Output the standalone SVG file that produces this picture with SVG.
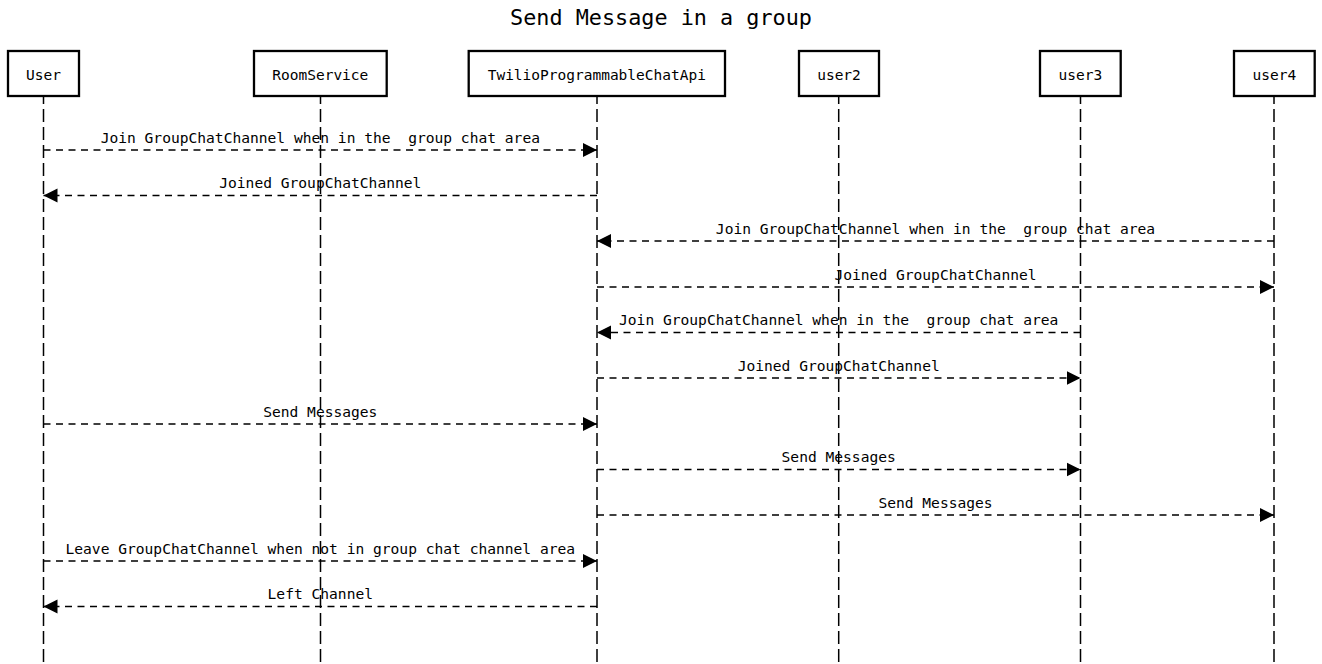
<svg xmlns="http://www.w3.org/2000/svg" width="1322" height="664" viewBox="0 0 1322 664" xml:space="preserve">
<style>
  .bg{fill:#ffffff}
  text{white-space:pre}
  .actor rect{fill:#ffffff;stroke:#000000;stroke-width:2.3}
  .actor text{font-family:"DejaVu Sans Mono","Liberation Mono",monospace;font-size:14.5px;fill:#000000;text-anchor:middle}
  .life{stroke:#000000;stroke-width:1.5;stroke-dasharray:13 5;stroke-dashoffset:6;fill:none}
  .msg{stroke:#000000;stroke-width:1.5;stroke-dasharray:7 5.5;fill:none}
  .lbl{font-family:"DejaVu Sans Mono","Liberation Mono",monospace;font-size:14.6px;fill:#000000;text-anchor:middle}
  .title{font-family:"DejaVu Sans Mono","Liberation Mono",monospace;font-size:21.8px;fill:#000000;text-anchor:middle}
</style>
<defs>
  <marker id="ah" markerUnits="userSpaceOnUse" markerWidth="15" markerHeight="16" refX="14" refY="7.5" orient="auto">
    <path d="M0,0.5 L14,7.5 L0,14.5 Z" fill="#000000"/>
  </marker>
</defs>
<rect class="bg" x="0" y="0" width="1322" height="664"/>
<text class="title" x="661" y="25">Send Message in a group</text>
<g id="lifelines">
  <line class="life" x1="43.5" y1="97" x2="43.5" y2="664"/>
  <line class="life" x1="320.5" y1="97" x2="320.5" y2="664"/>
  <line class="life" x1="597" y1="97" x2="597" y2="664"/>
  <line class="life" x1="838.7" y1="97" x2="838.7" y2="664"/>
  <line class="life" x1="1080.5" y1="97" x2="1080.5" y2="664"/>
  <line class="life" x1="1274" y1="97" x2="1274" y2="664"/>
</g>
<g id="User" class="actor"><rect x="8" y="51" width="71" height="45"/><text x="43.5" y="79.5">User</text></g>
<g id="RoomService" class="actor"><rect x="254" y="51" width="132.7" height="45"/><text x="320.3" y="79.5">RoomService</text></g>
<g id="TwilioProgrammableChatApi" class="actor"><rect x="468.7" y="51" width="256.3" height="45"/><text x="596.8" y="79.5">TwilioProgrammableChatApi</text></g>
<g id="user2" class="actor"><rect x="799" y="51" width="80" height="45"/><text x="839" y="79.5">user2</text></g>
<g id="user3" class="actor"><rect x="1040" y="51" width="80.7" height="45"/><text x="1080.3" y="79.5">user3</text></g>
<g id="user4" class="actor"><rect x="1234" y="51" width="80.7" height="45"/><text x="1274.3" y="79.5">user4</text></g>
<g id="connectors">
  <line class="msg" x1="43.5" y1="150" x2="597" y2="150" marker-end="url(#ah)"/>
  <text class="lbl" x="320.3" y="142.5">Join GroupChatChannel when in the  group chat area</text>
  <line class="msg" x1="597" y1="195.5" x2="43.5" y2="195.5" marker-end="url(#ah)"/>
  <text class="lbl" x="320.3" y="188">Joined GroupChatChannel</text>
  <line class="msg" x1="1274" y1="241" x2="597" y2="241" marker-end="url(#ah)"/>
  <text class="lbl" x="935.5" y="233.5">Join GroupChatChannel when in the  group chat area</text>
  <line class="msg" x1="597" y1="287" x2="1274" y2="287" marker-end="url(#ah)"/>
  <text class="lbl" x="935.5" y="279.5">Joined GroupChatChannel</text>
  <line class="msg" x1="1080.5" y1="332.5" x2="597" y2="332.5" marker-end="url(#ah)"/>
  <text class="lbl" x="838.7" y="325">Join GroupChatChannel when in the  group chat area</text>
  <line class="msg" x1="597" y1="378" x2="1080.5" y2="378" marker-end="url(#ah)"/>
  <text class="lbl" x="838.7" y="370.5">Joined GroupChatChannel</text>
  <line class="msg" x1="43.5" y1="424" x2="597" y2="424" marker-end="url(#ah)"/>
  <text class="lbl" x="320.3" y="416.5">Send Messages</text>
  <line class="msg" x1="597" y1="469.5" x2="1080.5" y2="469.5" marker-end="url(#ah)"/>
  <text class="lbl" x="838.7" y="462">Send Messages</text>
  <line class="msg" x1="597" y1="515" x2="1274" y2="515" marker-end="url(#ah)"/>
  <text class="lbl" x="935.5" y="507.5">Send Messages</text>
  <line class="msg" x1="43.5" y1="561" x2="597" y2="561" marker-end="url(#ah)"/>
  <text class="lbl" x="320.3" y="553.5">Leave GroupChatChannel when not in group chat channel area</text>
  <line class="msg" x1="597" y1="606.5" x2="43.5" y2="606.5" marker-end="url(#ah)"/>
  <text class="lbl" x="320.3" y="599">Left Channel</text>
</g>
</svg>
